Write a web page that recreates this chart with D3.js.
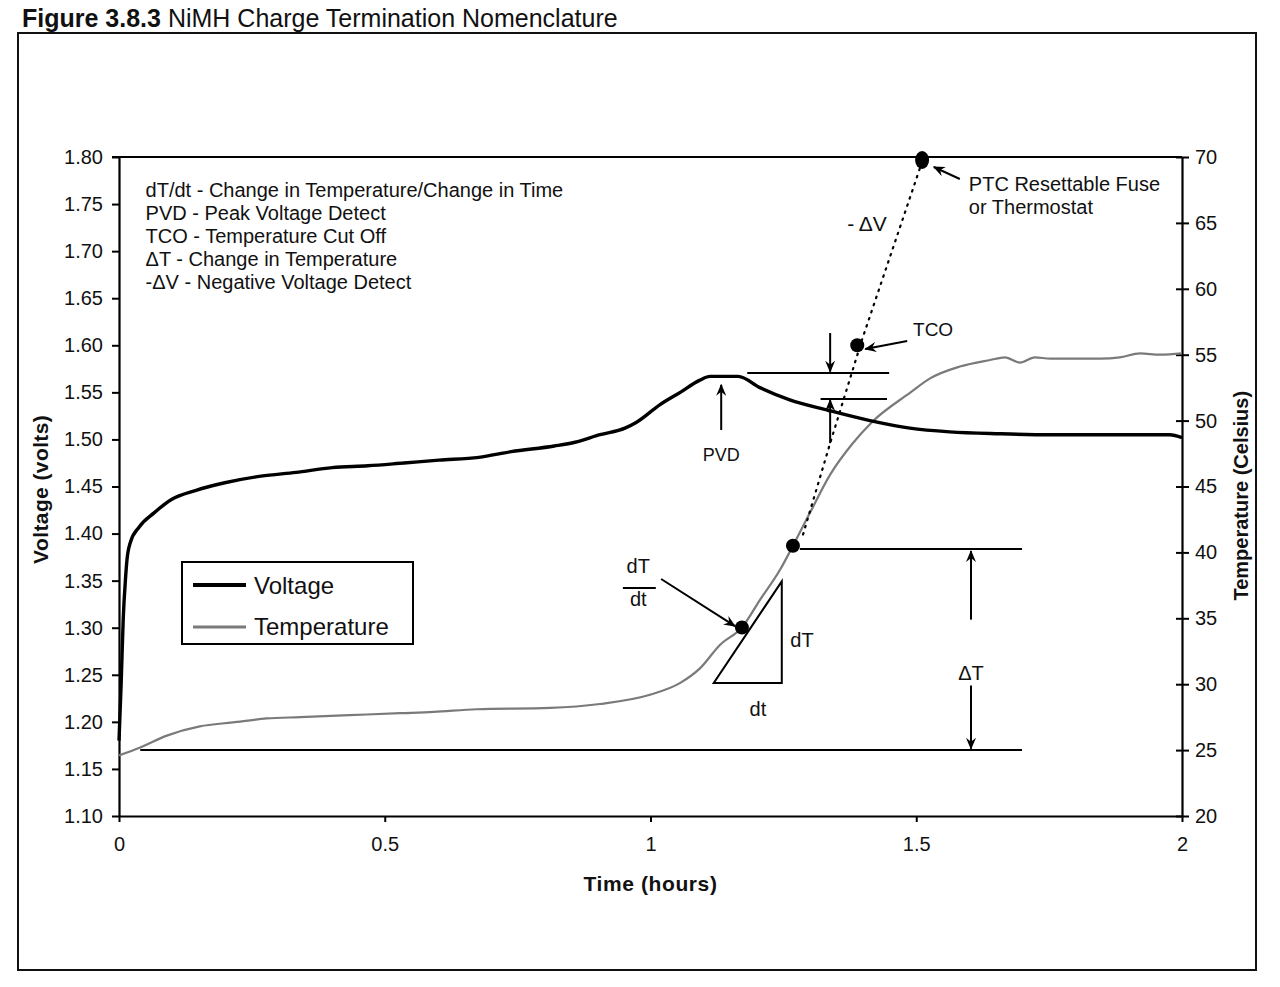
<!DOCTYPE html>
<html>
<head>
<meta charset="utf-8">
<script src="https://cdn.jsdelivr.net/npm/d3@7"></script>
<style>
  html, body { margin: 0; padding: 0; background: #ffffff; }
  svg { display: block; font-family: "Liberation Sans", Arial, sans-serif; }
</style>
</head>
<body>
<svg id="chart" width="1280" height="987"></svg>
<script>
// ---------------- data ----------------
const voltageTicks = [1.10,1.15,1.20,1.25,1.30,1.35,1.40,1.45,1.50,1.55,1.60,1.65,1.70,1.75,1.80];
const tempTicks = [20,25,30,35,40,45,50,55,60,65,70];
const timeTicks = [0,0.5,1,1.5,2];

const timeV = [0,0.004,0.008,0.012,0.015,0.021,0.038,0.066,0.098,0.145,0.199,0.267,0.333,0.401,0.468,0.536,0.602,0.677,0.738,0.819,0.858,0.905,0.952,0.973,1.018,1.056,1.093,1.112,1.165,1.206,1.262,1.334,1.413,1.488,1.563,1.658,1.752,1.846,1.977,2.0];
const voltage = [1.18,1.24,1.31,1.35,1.372,1.390,1.407,1.422,1.436,1.446,1.454,1.461,1.465,1.470,1.472,1.475,1.478,1.481,1.487,1.493,1.497,1.505,1.512,1.518,1.537,1.550,1.563,1.567,1.567,1.555,1.542,1.531,1.520,1.512,1.508,1.506,1.505,1.505,1.505,1.502];

const timeT = [0,0.04,0.09,0.152,0.214,0.278,0.341,0.466,0.529,0.592,0.673,0.811,0.905,0.999,1.056,1.093,1.131,1.172,1.206,1.244,1.268,1.300,1.338,1.381,1.417,1.488,1.526,1.582,1.639,1.667,1.695,1.723,1.752,1.846,1.883,1.921,1.959,2.0];
const temperature = [24.6,25.2,26.1,26.8,27.1,27.4,27.5,27.7,27.8,27.9,28.1,28.2,28.5,29.2,30.1,31.2,33.0,34.3,36.4,38.7,40.5,43.0,45.9,48.3,49.9,52.1,53.2,54.1,54.6,54.8,54.4,54.8,54.7,54.7,54.8,55.1,55.0,55.1];

const seriesNames = ["Voltage", "Temperature"];
const glossary = [
  "dT/dt - Change in Temperature/Change in Time",
  "PVD - Peak Voltage Detect",
  "TCO - Temperature Cut Off",
  "\u0394T - Change in Temperature",
  "-\u0394V - Negative Voltage Detect"
];

// annotation values (data units: time in hours, V in volts, T in Celsius)
const dottedTime = [1.511, 1.398, 1.338, 1.287];
const dottedVolt = [1.795, 1.606, 1.496, 1.399];
const ptcDot = {t: 1.511, T: 70};
const tcoDot = {t: 1.389, V: 1.60};
const slopeDot = {t: 1.172, T: 34.3};
const deltaDot = {t: 1.268, T: 40.5};
const peakLine = {t0: 1.182, t1: 1.449, V: 1.5706};
const dropLine = {t0: 1.320, t1: 1.445, V: 1.543};
const deltaTop = {t0: 1.281, t1: 1.699, T: 40.25};
const deltaBottom = {t0: 0.04, t1: 1.699, T: 25.0};
const triangleT = [1.119, 1.247, 1.247];
const triangleTemp = [30.1, 30.1, 37.8];

// ---------------- layout ----------------
const svg = d3.select("#chart");
const X0 = 119, X1 = 1182, YTOP = 157, YBOT = 816;

const x = d3.scaleLinear().domain([0, 2]).range([X0, X1]);
const yV = d3.scaleLinear().domain([1.10, 1.80]).range([YBOT, YTOP]);
const yT = d3.scaleLinear().domain([20, 70]).range([YBOT, YTOP]);

// arrow marker
const defs = svg.append("defs");
defs.append("marker").attr("id", "arr").attr("viewBox", "0 0 12 10")
  .attr("refX", 11).attr("refY", 5).attr("markerWidth", 12).attr("markerHeight", 10)
  .attr("markerUnits", "userSpaceOnUse").attr("orient", "auto")
  .append("path").attr("d", "M0,0 L12,5 L0,10 L4,5 Z").attr("fill", "#000");

// outer frame
svg.append("rect").attr("x", 18).attr("y", 33).attr("width", 1238).attr("height", 937)
  .attr("fill", "none").attr("stroke", "#111").attr("stroke-width", 2);

// title
const title = svg.append("text").attr("x", 22).attr("y", 27).attr("font-size", 25).attr("fill", "#111");
title.append("tspan").attr("font-weight", "bold").text("Figure 3.8.3");
title.append("tspan").text(" NiMH Charge Termination Nomenclature");

// axes
const axisFont = 20;
const gL = svg.append("g").attr("transform", `translate(${X0},0)`)
  .call(d3.axisLeft(yV).tickValues(voltageTicks).tickFormat(d3.format(".2f")).tickSize(7).tickSizeOuter(0).tickPadding(9));
const gR = svg.append("g").attr("transform", `translate(${X1},0)`)
  .call(d3.axisRight(yT).tickValues(tempTicks).tickFormat(d3.format("d")).tickSize(7).tickSizeOuter(0).tickPadding(6));
gR.selectAll(".tick").append("line").attr("x1", -6).attr("x2", 0).attr("stroke", "#000").attr("stroke-width", 2);
const gB = svg.append("g").attr("transform", `translate(0,${YBOT})`)
  .call(d3.axisBottom(x).tickValues(timeTicks).tickFormat(d => d3.format("")(d)).tickSize(6).tickSizeOuter(0).tickPadding(15));
[gL, gR, gB].forEach(g => {
  g.selectAll("path.domain").attr("stroke", "#000").attr("stroke-width", 2.2);
  g.selectAll(".tick line").attr("stroke", "#000").attr("stroke-width", 2);
  g.selectAll("text").attr("font-size", axisFont).attr("fill", "#111")
    .attr("font-family", "'Liberation Sans', Arial, sans-serif");
});
// top border of plot
svg.append("line").attr("x1", X0 - 7).attr("x2", X1).attr("y1", yV(1.80)).attr("y2", yV(1.80))
  .attr("stroke", "#000").attr("stroke-width", 2.2);

// axis titles
svg.append("text").attr("x", x(1)).attr("y", 891).attr("text-anchor", "middle")
  .attr("font-size", 21).attr("font-weight", "bold").attr("letter-spacing", 0.6).attr("fill", "#111").text("Time (hours)");
svg.append("text").attr("transform", `translate(48,${yV(1.447)}) rotate(-90)`).attr("text-anchor", "middle")
  .attr("font-size", 21).attr("font-weight", "bold").attr("letter-spacing", 0.4).attr("fill", "#111").text("Voltage (volts)");
svg.append("text").attr("transform", `translate(1248,${yT(44.3)}) rotate(-90)`).attr("text-anchor", "middle")
  .attr("font-size", 20).attr("font-weight", "bold").attr("fill", "#111").text("Temperature (Celsius)");

// glossary
svg.append("g").selectAll("text").data(glossary).join("text")
  .attr("x", x(0.05)).attr("y", (d, i) => yV(1.757) + i * 23)
  .attr("font-size", 20).attr("fill", "#111").text(d => d);

// ---------------- series ----------------
const tempLine = d3.line().x(d => x(d[0])).y(d => yT(d[1])).curve(d3.curveMonotoneX);
const voltLine = d3.line().x(d => x(d[0])).y(d => yV(d[1])).curve(d3.curveMonotoneX);

svg.append("path").datum(d3.zip(timeT, temperature)).attr("d", tempLine)
  .attr("fill", "none").attr("stroke", "#7a7a7a").attr("stroke-width", 2.2);
svg.append("path").datum(d3.zip(timeV, voltage)).attr("d", voltLine)
  .attr("fill", "none").attr("stroke", "#000").attr("stroke-width", 3.4);

// ---------------- annotations ----------------
const ink = "#000";
function hline(t0, t1, y, w) {
  svg.append("line").attr("x1", x(t0)).attr("x2", x(t1)).attr("y1", y).attr("y2", y)
    .attr("stroke", ink).attr("stroke-width", w || 2);
}
function arrow(xa, ya, xb, yb) {
  svg.append("line").attr("x1", xa).attr("y1", ya).attr("x2", xb).attr("y2", yb)
    .attr("stroke", ink).attr("stroke-width", 2).attr("marker-end", "url(#arr)");
}
function label(xp, yp, txt, size, anchor) {
  return svg.append("text").attr("x", xp).attr("y", yp).attr("font-size", size)
    .attr("text-anchor", anchor || "start").attr("fill", "#111").text(txt);
}

// dotted -dV line
svg.append("path").datum(d3.zip(dottedTime, dottedVolt))
  .attr("d", d3.line().x(d => x(d[0])).y(d => yV(d[1])))
  .attr("fill", "none").attr("stroke", ink).attr("stroke-width", 2.2).attr("stroke-dasharray", "1.5,6")
  .attr("stroke-linecap", "round");

// PTC
svg.append("ellipse").attr("cx", x(ptcDot.t)).attr("cy", yT(ptcDot.T) + 3).attr("rx", 7).attr("ry", 9).attr("fill", ink);
arrow(x(1.582), yT(68.33), x(1.533), yT(69.24));
label(x(1.599), yT(67.42), "PTC Resettable Fuse", 20);
label(x(1.599), yT(65.68), "or Thermostat", 20);
label(x(1.370), yT(64.39), "- \u0394V", 21);

// TCO
svg.append("circle").attr("cx", x(tcoDot.t)).attr("cy", yV(tcoDot.V)).attr("r", 7).attr("fill", ink);
arrow(x(1.483), yV(1.6046), x(1.404), yV(1.596));
label(x(1.494), yV(1.610), "TCO", 19);

// peak / drop lines
hline(peakLine.t0, peakLine.t1, yV(peakLine.V));
hline(dropLine.t0, dropLine.t1, yV(dropLine.V));
arrow(x(1.338), yV(1.613), x(1.338), yV(1.572));
arrow(x(1.338), yV(1.496), x(1.338), yV(1.542));

// PVD
arrow(x(1.133), yV(1.510), x(1.133), yV(1.558));
label(x(1.133), yV(1.477), "PVD", 18, "middle");

// dT/dt
svg.append("path").datum(d3.zip(triangleT, triangleTemp))
  .attr("d", d3.line().x(d => x(d[0])).y(d => yT(d[1])).curve(d3.curveLinearClosed))
  .attr("fill", "none").attr("stroke", ink).attr("stroke-width", 2);
svg.append("circle").attr("cx", x(slopeDot.t)).attr("cy", yT(slopeDot.T)).attr("r", 7).attr("fill", ink);
arrow(x(1.020), yT(37.98), x(1.159), yT(34.4));
label(x(0.977), yT(38.44), "dT", 20, "middle");
svg.append("line").attr("x1", x(0.948)).attr("x2", x(1.01)).attr("y1", yT(37.3)).attr("y2", yT(37.3))
  .attr("stroke", ink).attr("stroke-width", 2);
label(x(0.977), yT(35.93), "dt", 20, "middle");
label(x(1.263), yT(32.8), "dT", 20);
label(x(1.202), yT(27.6), "dt", 20, "middle");

// delta T
svg.append("circle").attr("cx", x(deltaDot.t)).attr("cy", yT(deltaDot.T)).attr("r", 7).attr("fill", ink);
hline(deltaTop.t0, deltaTop.t1, yT(deltaTop.T));
hline(deltaBottom.t0, deltaBottom.t1, yT(deltaBottom.T));
arrow(x(1.603), yT(34.9), x(1.603), yT(40.1));
arrow(x(1.603), yT(29.9), x(1.603), yT(25.1));
label(x(1.603), yT(30.3), "\u0394T", 20, "middle");

// legend
const lg = svg.append("g");
lg.append("rect").attr("x", 182).attr("y", 562).attr("width", 231).attr("height", 82)
  .attr("fill", "#fff").attr("stroke", ink).attr("stroke-width", 2);
lg.append("line").attr("x1", 193).attr("x2", 246).attr("y1", 585).attr("y2", 585).attr("stroke", "#000").attr("stroke-width", 4);
lg.append("line").attr("x1", 193).attr("x2", 246).attr("y1", 627).attr("y2", 627).attr("stroke", "#7a7a7a").attr("stroke-width", 3);
lg.selectAll("text").data(seriesNames).join("text")
  .attr("x", 254).attr("y", (d, i) => 594 + i * 41).attr("font-size", 24).attr("fill", "#111").text(d => d);
</script>
</body>
</html>
